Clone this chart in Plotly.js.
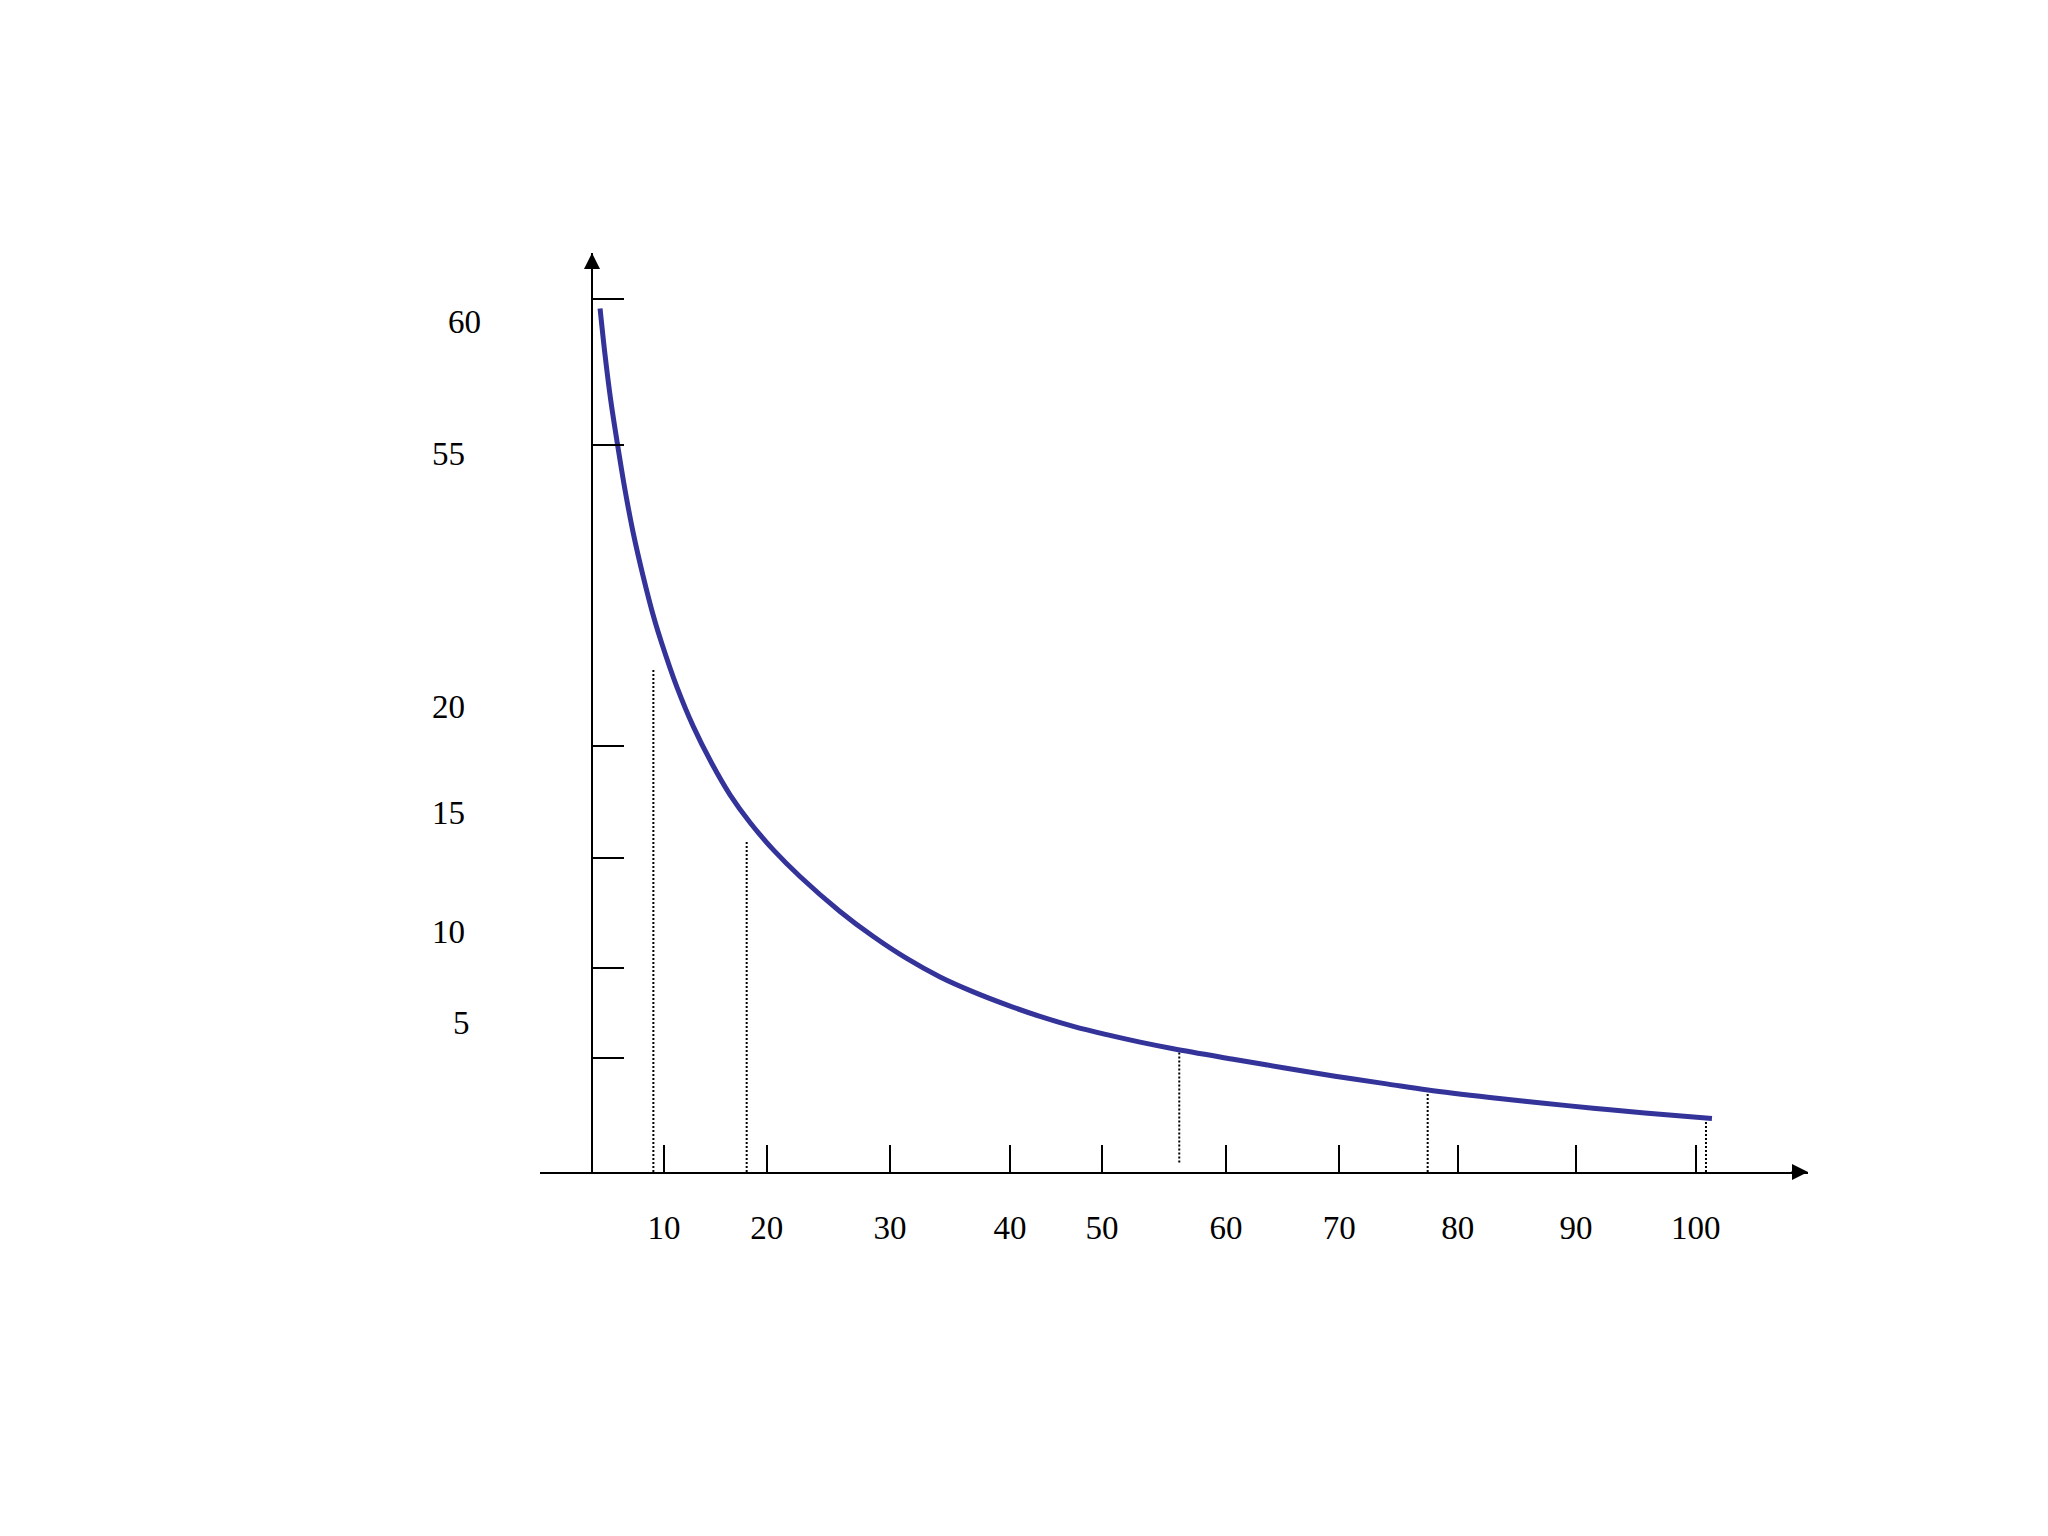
<!DOCTYPE html>
<html>
<head>
<meta charset="utf-8">
<script src="https://cdn.plot.ly/plotly-3.0.1.min.js"></script>
<style>html,body{margin:0;padding:0;background:#fff;}#chart{width:2048px;height:1536px;}</style>
</head>
<body>
<div id="chart"></div>
<script>
// Curve values (in the chart's axis units)
const curveX = [4.42, 4.85, 5.35, 6.01, 6.60, 7.32, 8.19, 9.13, 9.80, 11.11, 12.56, 14.16, 15.76, 17.50, 19.54, 21.86, 25.35, 28.26, 31.17, 34.08, 36.98, 39.90, 42.80, 45.71, 48.62, 51.53, 54.43, 59.53, 64.03, 68.54, 73.04, 76.64, 82.05, 86.56, 91.06, 95.57, 101.42];
const curveY = [40.56, 38.40, 36.26, 33.95, 32.03, 30.00, 27.96, 26.01, 24.84, 22.80, 20.92, 19.20, 17.72, 16.42, 15.13, 13.88, 12.24, 11.06, 10.03, 9.16, 8.46, 7.85, 7.31, 6.84, 6.45, 6.10, 5.79, 5.31, 4.90, 4.50, 4.14, 3.85, 3.50, 3.24, 3.00, 2.77, 2.51];

// Dotted drop lines
const dropX = [9.07, 17.21, 54.95, 76.62, 100.9];
const dropTop = [23.58, 15.6, 5.7, 3.85, 2.55];
const dropBottom = [0, 0, 0.45, 0, 0];

// Axis ticks
const xTickVals = [10, 18.96, 29.72, 40.18, 48.21, 59.03, 68.91, 79.24, 89.56, 100];
const xTickText = ['10', '20', '30', '40', '50', '60', '70', '80', '90', '100'];
const yTickVals = [5.37, 9.59, 14.77, 20, 34.16, 41.0];
const yTickText = ['5', '10', '15', '20', '55', '60'];
const yLabelVals = [7.0, 11.27, 16.85, 21.83, 33.72, 39.93];

const dx = [], dy = [];
dropX.forEach((x, i) => { dx.push(x, x, null); dy.push(dropBottom[i], dropTop[i], null); });

const traces = [
  {x: dx, y: dy, mode: 'lines', line: {color: '#000', width: 2, dash: '2px,2px'}, hoverinfo: 'skip', showlegend: false},
  {x: curveX, y: curveY, mode: 'lines', line: {color: '#333399', width: 5, shape: 'spline', smoothing: 1}, showlegend: false}
];

const serif = {family: 'Liberation Serif, Times New Roman, serif', size: 33, color: '#000'};
const yAxisPos = 0.041;
const annotations = yTickText.map((t, i) => ({
  text: t, xref: 'paper', yref: 'y', x: 0, y: yLabelVals[i], xanchor: 'center', yanchor: 'middle',
  xshift: (t === '60' ? -76 : (t === '5' ? -79 : -92)), showarrow: false, font: serif
}));
// axis arrowheads
annotations.push({xref: 'paper', yref: 'paper', x: yAxisPos, y: 1, ax: 0, ay: 18, text: '', showarrow: true,
  arrowhead: 2, arrowsize: 1.6, arrowwidth: 2, arrowcolor: '#000'});
annotations.push({xref: 'paper', yref: 'paper', x: 1, y: 0, ax: -18, ay: 0, text: '', showarrow: true,
  arrowhead: 2, arrowsize: 1.6, arrowwidth: 2, arrowcolor: '#000'});

const layout = {
  width: 2048, height: 1536,
  margin: {l: 540, r: 240, t: 253, b: 364, pad: 0},
  paper_bgcolor: '#fff', plot_bgcolor: '#fff',
  showlegend: false,
  font: serif,
  xaxis: {range: [-0.82, 109.8], showgrid: false, zeroline: false, showline: true, linecolor: '#000', linewidth: 2,
    ticks: 'inside', ticklen: 27, tickwidth: 2, tickcolor: '#000', tickmode: 'array', tickvals: xTickVals, ticktext: xTickText,
    tickfont: serif, ticklabelstandoff: 25, fixedrange: true},
  yaxis: {range: [0, 43.17], anchor: 'free', position: yAxisPos, showgrid: false, zeroline: false, showline: true,
    linecolor: '#000', linewidth: 2, ticks: 'inside', ticklen: 31, tickwidth: 2, tickcolor: '#000',
    tickmode: 'array', tickvals: yTickVals, ticktext: yTickText, showticklabels: false, fixedrange: true},
  annotations: annotations
};

Plotly.newPlot('chart', traces, layout, {displayModeBar: false, staticPlot: true});
</script>
</body>
</html>
